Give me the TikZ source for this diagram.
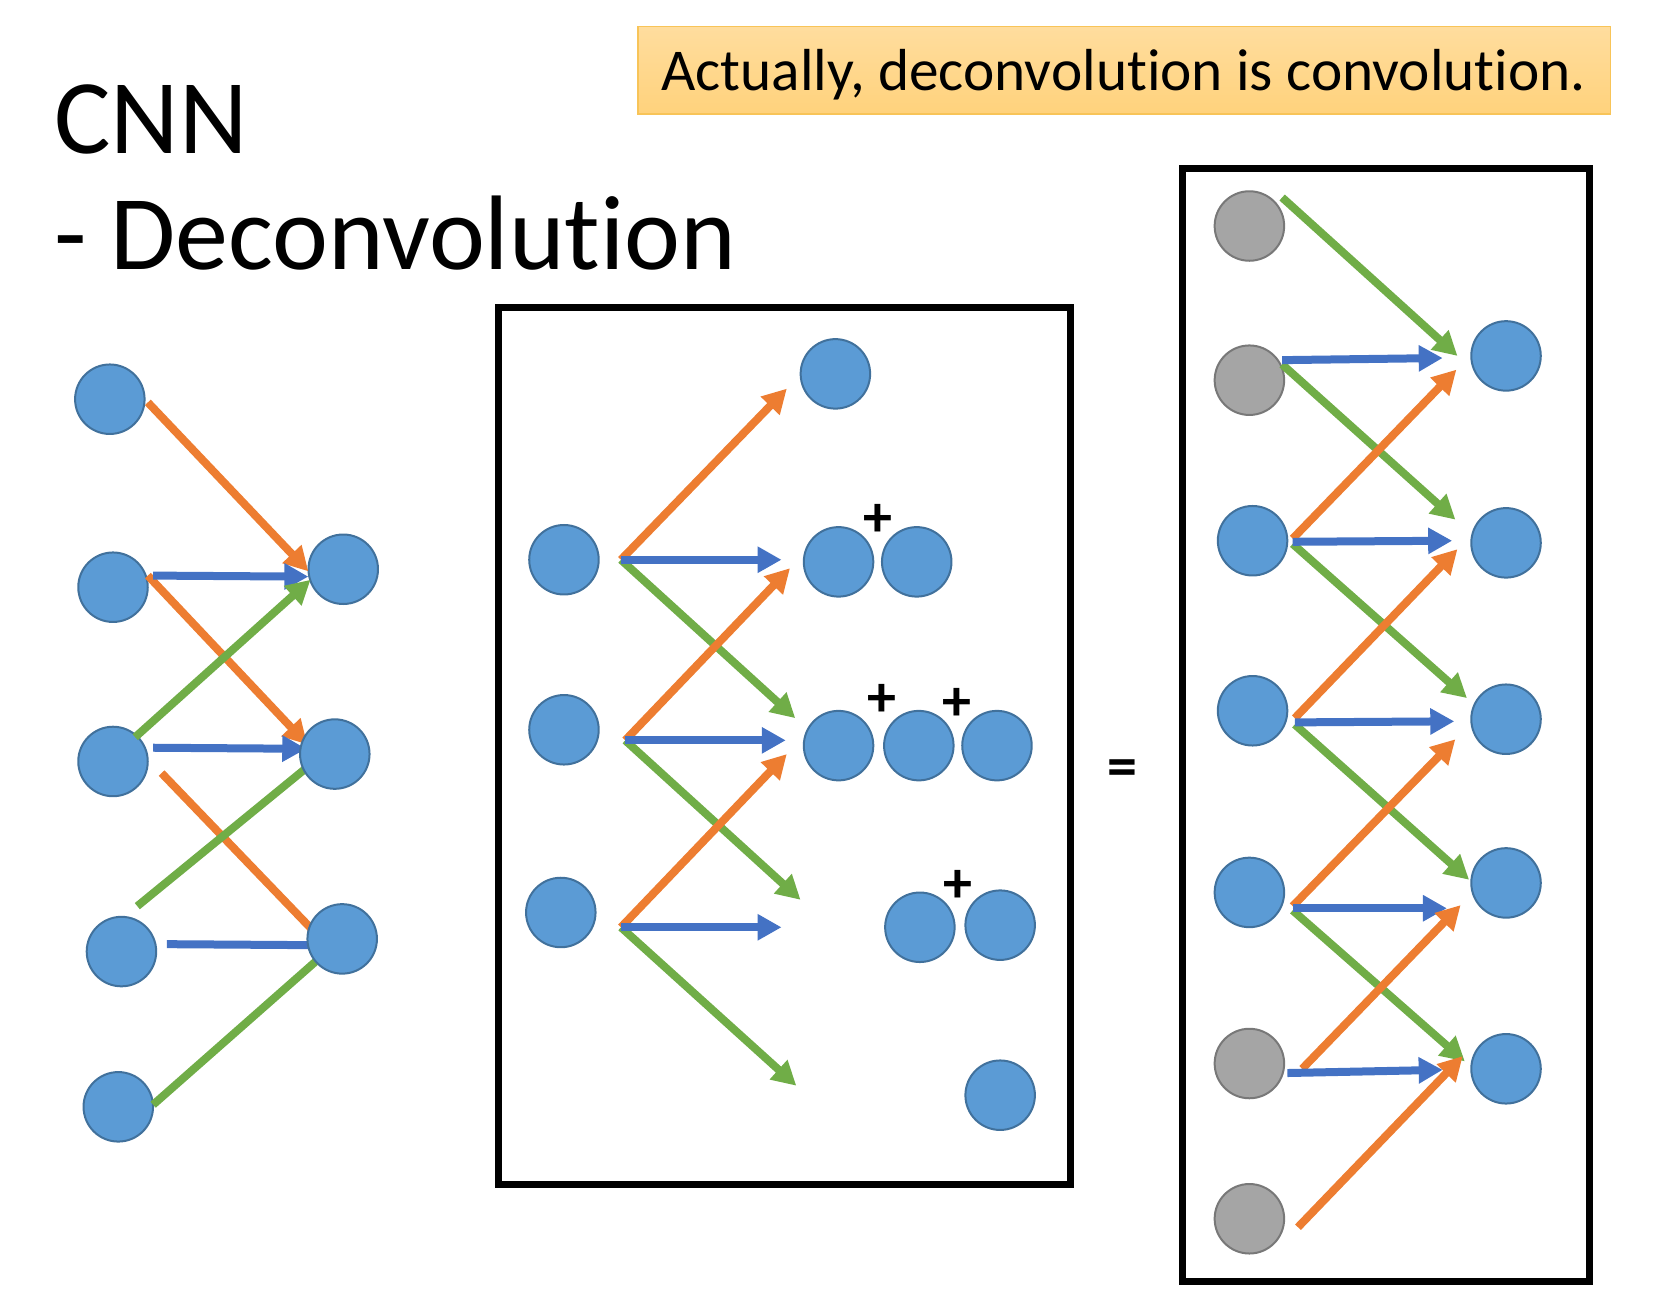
\documentclass[tikz,border=0pt]{standalone}
\usepackage{fontspec}
\setmainfont{Carlito}[Ligatures=NoCommon]
\usetikzlibrary{arrows.meta}
\definecolor{cfill}{HTML}{5B9BD5}
\definecolor{cedge}{HTML}{41719C}
\definecolor{gfill}{HTML}{A5A5A5}
\definecolor{gedge}{HTML}{787878}
\definecolor{corange}{HTML}{ED7D31}
\definecolor{cblue}{HTML}{4472C4}
\definecolor{cgreen}{HTML}{70AD47}
\definecolor{notetop}{HTML}{FFDD9E}
\definecolor{notebot}{HTML}{FFD27C}
\definecolor{noteedge}{HTML}{F8C458}
\begin{document}
\begin{tikzpicture}[x=1.0561pt,y=-1.0561pt,
  neuron/.style={circle,fill=cfill,draw=cedge,line width=2pt,minimum size=69.5pt,inner sep=0pt},
  padn/.style={circle,fill=gfill,draw=gedge,line width=2pt,minimum size=69.5pt,inner sep=0pt},
  arr/.style={line width=8pt,-{Triangle[length=24pt,width=25pt]}},
  oarr/.style={arr,draw=corange,fill=corange},
  barr/.style={arr,draw=cblue,fill=cblue},
  garr/.style={arr,draw=cgreen,fill=cgreen},
  oline/.style={line width=8pt,draw=corange},
  bline/.style={line width=8pt,draw=cblue},
  gline/.style={line width=8pt,draw=cgreen},
  frame/.style={draw=black,line width=7pt},
  plussign/.style={font=\bfseries\fontsize{58}{60}\selectfont,inner sep=0pt},
  titletext/.style={anchor=base west,inner sep=0pt,font=\fontsize{106}{110}\selectfont},
]
\useasboundingbox (0,0) rectangle (1568,1233);

% title
\node[titletext] (t1) at (51,145) {CNN};
\node[titletext] (t2) at (51,255) {- Deconvolution};

% note box
\path[top color=notetop,bottom color=notebot,draw=noteedge,line width=1.2pt] (604,25) rectangle (1525,108);
\node[anchor=base,inner sep=0pt,font=\fontsize{59.3}{62}\selectfont] (note) at (1064,86) {Actually, deconvolution is convolution.};

% ---------------- left diagram ----------------
\node[neuron] (L1) at (104,378) {};
\node[neuron] (L2) at (107,556) {};
\node[neuron] (L3) at (107,721) {};
\node[neuron] (L4) at (115,901) {};
\node[neuron] (L5) at (112,1048) {};

\coordinate (la1) at (140,381); \coordinate (la1e) at (292,541);
\coordinate (la2) at (145,545); \coordinate (la2e) at (292,546);
\coordinate (la3) at (140,545); \coordinate (la3e) at (291,705);
\coordinate (la4) at (128,698); \coordinate (la4e) at (294,549);
\coordinate (la5) at (145,708); \coordinate (la5e) at (290,709);
\coordinate (la6) at (153,732); \coordinate (la6e) at (305,890);
\coordinate (la7) at (130,858); \coordinate (la7e) at (300,719);
\coordinate (la8) at (158,894); \coordinate (la8e) at (305,895);
\coordinate (la9) at (145,1046); \coordinate (la9e) at (305,905);

\draw[oarr] (la3) -- (la3e);
\draw[barr] (la5) -- (la5e);
\draw[oline] (la6) -- (la6e);
\draw[gline] (la7) -- (la7e);
\draw[bline] (la8) -- (la8e);
\draw[gline] (la9) -- (la9e);

\node[neuron] (R2) at (317,714) {};
\node[neuron] (R3) at (324,889) {};
\node[neuron] (R1) at (325,539) {};
\draw[oarr] (la1) -- (la1e);
\draw[barr] (la2) -- (la2e);
\draw[garr] (la4) -- (la4e);

% ---------------- middle box ----------------
\draw[frame] (472,291) rectangle (1014,1122);
\node[neuron] (M1) at (534,530) {};
\node[neuron] (M2) at (534,691) {};
\node[neuron] (M3) at (531,864) {};

\node[neuron] (O1) at (791,354) {};
\node[neuron] (O21) at (794,532) {};
\node[neuron] (O22) at (868,532) {};
\node[neuron] (O31) at (794,706) {};
\node[neuron] (O32) at (870,706) {};
\node[neuron] (O33) at (944,706) {};
\node[neuron] (O41) at (871,878) {};
\node[neuron] (O42) at (947,876) {};
\node[neuron] (O5) at (947,1037) {};

\node[plussign] (p1) at (831,493) {+};
\node[plussign] (p2) at (835,663) {+};
\node[plussign] (p3) at (906,667) {+};
\node[plussign] (p4) at (907,839) {+};

\coordinate (m1s) at (588,530);
\coordinate (m2s) at (592,701);
\coordinate (m3s) at (588,878);
\coordinate (m1o) at (745,368); \coordinate (m1b) at (740,530); \coordinate (m1g) at (753,680);
\coordinate (m2o) at (748,538); \coordinate (m2b) at (744,701); \coordinate (m2g) at (758,852);
\coordinate (m3o) at (745,714); \coordinate (m3b) at (740,878); \coordinate (m3g) at (754,1028);

\draw[oarr] (m1s) -- (m1o);
\draw[garr] (m1s) -- (m1g);
\draw[barr] (m1s) -- (m1b);
\draw[oarr] (m2s) -- (m2o);
\draw[garr] (m2s) -- (m2g);
\draw[barr] (m2s) -- (m2b);
\draw[oarr] (m3s) -- (m3o);
\draw[garr] (m3s) -- (m3g);
\draw[barr] (m3s) -- (m3b);

% equals
\node[inner sep=0pt,font=\bfseries\fontsize{60}{64}\selectfont] (eq) at (1063,732) {=};

% ---------------- right box ----------------
\draw[frame] (1120,160) rectangle (1505,1213);
\node[padn] (G1) at (1183,214) {};
\node[padn] (G2) at (1183,360) {};
\node[neuron] (B1) at (1186,512) {};
\node[neuron] (B2) at (1186,673) {};
\node[neuron] (B3) at (1183,845) {};
\node[padn] (G3) at (1183,1007) {};
\node[padn] (G4) at (1183,1154) {};

\node[neuron] (Q1) at (1426,337) {};
\node[neuron] (Q2) at (1426,514) {};
\node[neuron] (Q3) at (1426,681) {};
\node[neuron] (Q4) at (1426,836) {};
\node[neuron] (Q5) at (1426,1012) {};

\coordinate (r1s) at (1214,187);  \coordinate (r1e) at (1380,337);
\coordinate (r2s) at (1214,341);  \coordinate (r2e) at (1366,339);
\coordinate (r3s) at (1214,345);  \coordinate (r3e) at (1378,492);
\coordinate (r4s) at (1224,510);  \coordinate (r4e) at (1379,350);
\coordinate (r5s) at (1224,513);  \coordinate (r5e) at (1375,512);
\coordinate (r6s) at (1224,515);  \coordinate (r6e) at (1389,661);
\coordinate (r7s) at (1226,680);  \coordinate (r7e) at (1380,520);
\coordinate (r8s) at (1226,684);  \coordinate (r8e) at (1377,683);
\coordinate (r9s) at (1226,686);  \coordinate (r9e) at (1391,833);
\coordinate (r10s) at (1224,858); \coordinate (r10e) at (1378,700);
\coordinate (r11s) at (1224,860); \coordinate (r11e) at (1370,860);
\coordinate (r12s) at (1224,862); \coordinate (r12e) at (1387,1005);
\coordinate (r13s) at (1233,1012); \coordinate (r13e) at (1383,857);
\coordinate (r14s) at (1219,1016); \coordinate (r14e) at (1366,1013);
\coordinate (r15s) at (1229,1162); \coordinate (r15e) at (1385,1000);

\draw[garr] (r1s) -- (r1e);
\draw[garr] (r3s) -- (r3e);
\draw[barr] (r2s) -- (r2e);
\draw[oarr] (r4s) -- (r4e);
\draw[garr] (r6s) -- (r6e);
\draw[barr] (r5s) -- (r5e);
\draw[oarr] (r7s) -- (r7e);
\draw[garr] (r9s) -- (r9e);
\draw[barr] (r8s) -- (r8e);
\draw[oarr] (r10s) -- (r10e);
\draw[garr] (r12s) -- (r12e);
\draw[barr] (r11s) -- (r11e);
\draw[oarr] (r13s) -- (r13e);
\draw[barr] (r14s) -- (r14e);
\draw[oarr] (r15s) -- (r15e);
\end{tikzpicture}
\end{document}
